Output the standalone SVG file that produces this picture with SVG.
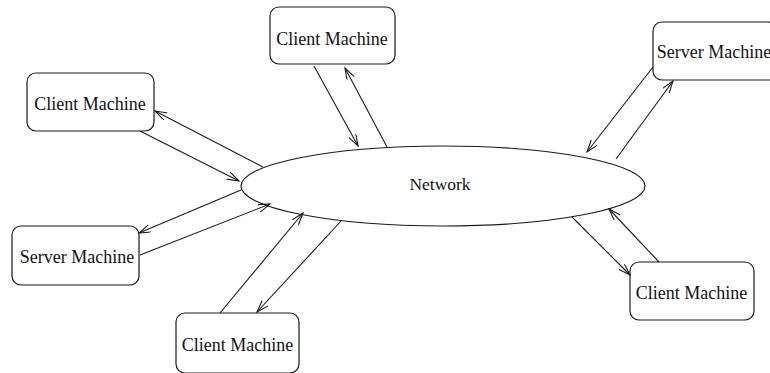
<svg xmlns="http://www.w3.org/2000/svg" width="770" height="373" viewBox="0 0 770 373">
  <style>
    .box { fill: #fff; stroke: #1a1a1a; stroke-width: 1.2; }
    .label { font-family: "Liberation Serif", "Times New Roman", serif; font-size: 18px; fill: #111; text-anchor: middle; }
    .link { stroke: #1a1a1a; stroke-width: 1.1; fill: none; marker-end: url(#arrow); }
  </style>
  <defs>
    <marker id="arrow" markerUnits="userSpaceOnUse" markerWidth="14" markerHeight="10" refX="12" refY="4" orient="auto">
      <path d="M0,0 L12,4 L0,8" fill="none" stroke="#1a1a1a" stroke-width="1.1"/>
    </marker>
  </defs>
  <rect width="770" height="373" fill="#fff"/>

  <g id="network">
    <ellipse cx="443" cy="186" rx="202" ry="40" class="box"/>
    <text x="440" y="190" class="label" style="font-size:17.5px">Network</text>
  </g>

  <g id="client-top-left">
    <rect x="27" y="73" width="127" height="58" rx="9" class="box"/>
    <text x="90" y="110" class="label">Client Machine</text>
  </g>

  <g id="client-top">
    <rect x="270" y="7" width="125" height="57" rx="9" class="box"/>
    <text x="332" y="45" class="label">Client Machine</text>
  </g>

  <g id="server-top-right">
    <rect x="653" y="22" width="124" height="58" rx="9" class="box"/>
    <text x="714" y="58" class="label">Server Machine</text>
  </g>

  <g id="server-left">
    <rect x="12" y="226" width="127" height="59" rx="9" class="box"/>
    <text x="77" y="263" class="label">Server Machine</text>
  </g>

  <g id="client-bottom">
    <rect x="176" y="313" width="123" height="60" rx="9" class="box"/>
    <text x="237.5" y="351" class="label">Client Machine</text>
  </g>

  <g id="client-bottom-right">
    <rect x="630" y="262" width="124" height="58" rx="9" class="box"/>
    <text x="691.5" y="299" class="label">Client Machine</text>
  </g>

  <g id="connectors">
    <line x1="263" y1="167" x2="155" y2="111" class="link"/>
    <line x1="140" y1="131" x2="239" y2="181" class="link"/>
    <line x1="314" y1="66" x2="358" y2="146" class="link"/>
    <line x1="387" y1="147" x2="345" y2="68" class="link"/>
    <line x1="653" y1="67" x2="587" y2="152" class="link"/>
    <line x1="616" y1="159" x2="673" y2="81" class="link"/>
    <line x1="572" y1="217" x2="630" y2="275" class="link"/>
    <line x1="659" y1="262" x2="609" y2="209" class="link"/>
    <line x1="241" y1="190" x2="139" y2="233" class="link"/>
    <line x1="140" y1="255" x2="270" y2="204" class="link"/>
    <line x1="220" y1="313" x2="303" y2="213" class="link"/>
    <line x1="342" y1="220" x2="257" y2="312" class="link"/>
  </g>
</svg>
